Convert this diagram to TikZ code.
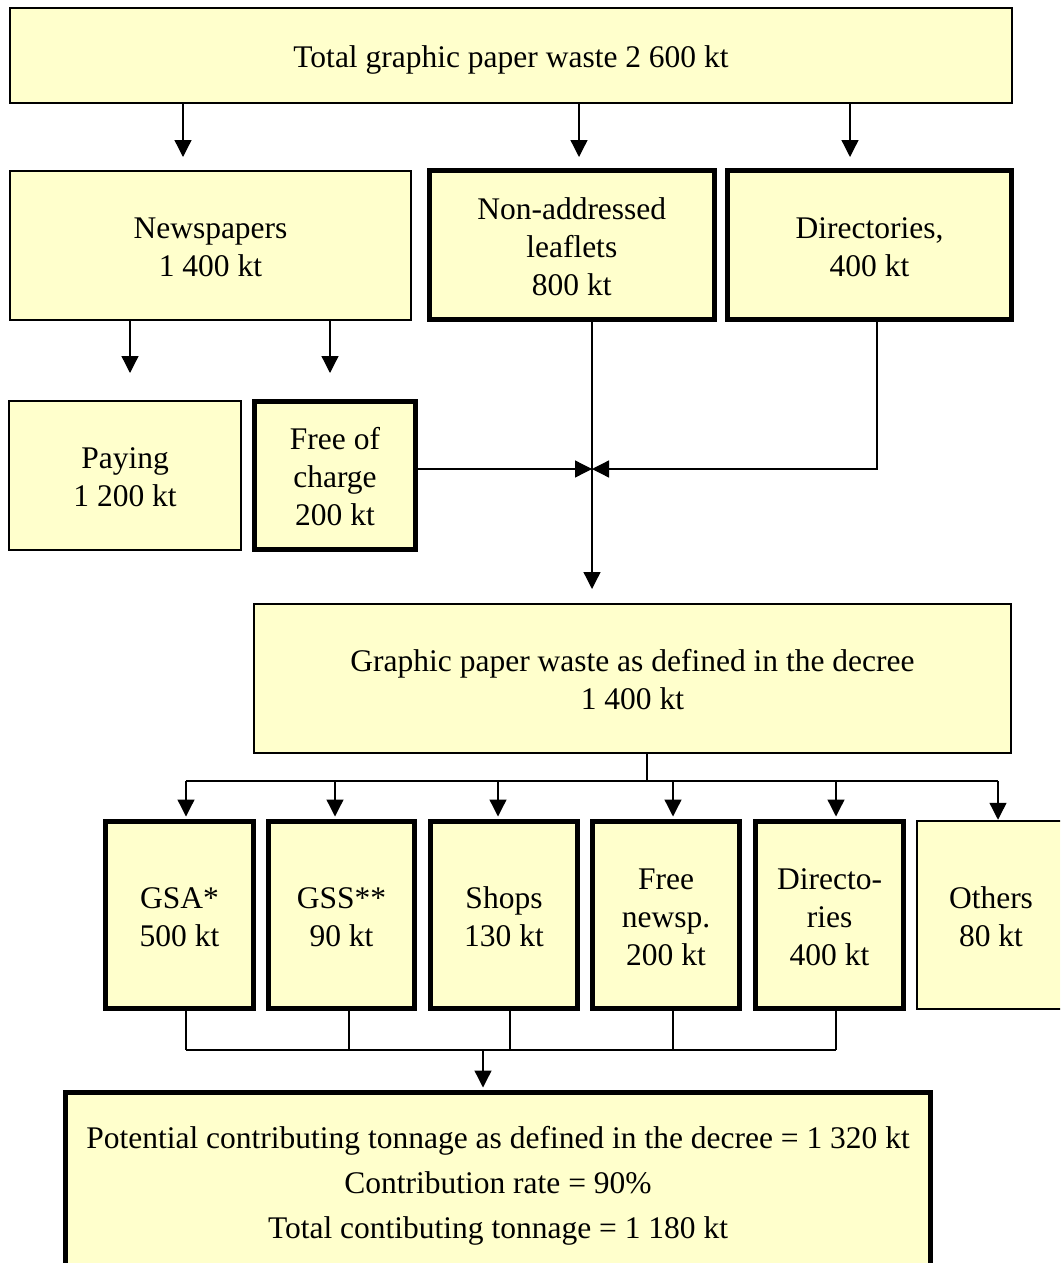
\documentclass[tikz,border=0pt]{standalone}
\usepackage{fontspec}
\setmainfont{Liberation Serif}
\usetikzlibrary{arrows.meta}
\definecolor{boxfill}{HTML}{FFFFCC}
\newcommand\sh[1]{\rule{0pt}{#1pt}}
\begin{document}
\begin{tikzpicture}[x=1pt,y=-1pt,
  thinbox/.style={draw=black, line width=1.5pt, fill=boxfill, inner sep=0pt, align=center,
    font=\fontsize{31.5}{38}\selectfont},
  thickbox/.style={thinbox, line width=5pt},
  conn/.style={line width=1.3pt},
  arr/.style={conn, -{Triangle[length=17pt,width=17pt]}}]
\clip (0,0) rectangle (1060,1263);
\useasboundingbox (0,0) rectangle (1060,1263);
\fill[white] (0,0) rectangle (1060,1263);
% boxes
\node[thinbox, minimum width=1002pt, minimum height=95pt] (total) at (511,55.5) {\sh{31}Total graphic paper waste 2 600 kt};
\node[thinbox, minimum width=401pt, minimum height=149pt] (news) at (210.5,245.5) {\sh{25}Newspapers\\1 400 kt};
\node[thickbox, minimum width=284.5pt, minimum height=149pt] (leaf) at (571.75,245) {\sh{25}Non-addressed\\leaflets\\800 kt};
\node[thickbox, minimum width=284pt, minimum height=149pt] (dir) at (869.5,245) {\sh{25}Directories,\\400 kt};
\node[thinbox, minimum width=232pt, minimum height=149pt] (pay) at (125,475.5) {\sh{25}Paying\\1 200 kt};
\node[thickbox, minimum width=161pt, minimum height=148pt] (free) at (335,475.5) {\sh{25}Free of\\charge\\200 kt};
\node[thinbox, minimum width=757pt, minimum height=149pt] (graph) at (632.5,678.5) {\sh{24}Graphic paper waste as defined in the decree\\1 400 kt};
\node[thickbox, minimum width=148pt, minimum height=187pt] (gsa) at (179.5,915) {\sh{25}GSA*\\500 kt};
\node[thickbox, minimum width=146pt, minimum height=187pt] (gss) at (341.5,915) {\sh{25}GSS**\\90 kt};
\node[thickbox, minimum width=147pt, minimum height=187pt] (shops) at (504,915) {\sh{25}Shops\\130 kt};
\node[thickbox, minimum width=147pt, minimum height=187pt] (fnews) at (666,915) {\sh{25}Free\\newsp.\\200 kt};
\node[thickbox, minimum width=148pt, minimum height=187pt] (direc) at (829.5,915) {\sh{25}Directo-\\ries\\400 kt};
\node[thinbox, minimum width=148pt, minimum height=188pt] (others) at (991,915) {\sh{25}Others\\80 kt};
\node[thickbox, minimum width=865pt, minimum height=181pt, font=\fontsize{31.5}{45}\selectfont] (final) at (498,1183)
  {\sh{27}Potential contributing tonnage as defined in the decree = 1 320 kt\\Contribution rate = 90\%\\Total contibuting tonnage = 1 180 kt};
% top arrows
\coordinate (t1) at (183,157);
\coordinate (t2) at (579,157);
\coordinate (t3) at (850,157);
\draw[arr] (total.south -| t1) -- (t1);
\draw[arr] (total.south -| t2) -- (t2);
\draw[arr] (total.south -| t3) -- (t3);
% newspapers split
\coordinate (n1) at (130,373);
\coordinate (n2) at (330,373);
\draw[arr] (news.south -| n1) -- (n1);
\draw[arr] (news.south -| n2) -- (n2);
% merge
\coordinate (j) at (592,469);
\coordinate (g1) at (592,589);
\coordinate (dc) at (877,469);
\draw[arr] (leaf.south -| j) -- (g1);
\draw[arr] (free.east |- j) -- (j);
\draw[arr] (dir.south -| dc) -- (dc) -- (j);
% distribution
\coordinate (h) at (647,781);
\coordinate (r1) at (186,781);
\coordinate (r2) at (335,781);
\coordinate (r3) at (498,781);
\coordinate (r4) at (673,781);
\coordinate (r5) at (836,781);
\coordinate (r6) at (998,781);
\draw[conn] (graph.south -| h) -- (h);
\draw[conn] (r1) -- (r6);
\draw[arr, shorten >=2.5pt] (r1) -- (r1 |- gsa.north);
\draw[arr, shorten >=2.5pt] (r2) -- (r2 |- gss.north);
\draw[arr, shorten >=2.5pt] (r3) -- (r3 |- shops.north);
\draw[arr, shorten >=2.5pt] (r4) -- (r4 |- fnews.north);
\draw[arr, shorten >=2.5pt] (r5) -- (r5 |- direc.north);
\draw[arr, shorten >=0.5pt] (r6) -- (r6 |- others.north);
% collection
\coordinate (b1) at (186,1050);
\coordinate (b2) at (349,1050);
\coordinate (b3) at (510,1050);
\coordinate (b4) at (673,1050);
\coordinate (b5) at (836,1050);
\coordinate (bm) at (483,1050);
\draw[conn] (gsa.south -| b1) -- (b1);
\draw[conn] (gss.south -| b2) -- (b2);
\draw[conn] (shops.south -| b3) -- (b3);
\draw[conn] (fnews.south -| b4) -- (b4);
\draw[conn] (direc.south -| b5) -- (b5);
\draw[conn] (b1) -- (b5);
\draw[arr, shorten >=2.5pt] (bm) -- (bm |- final.north);
\end{tikzpicture}
\end{document}
